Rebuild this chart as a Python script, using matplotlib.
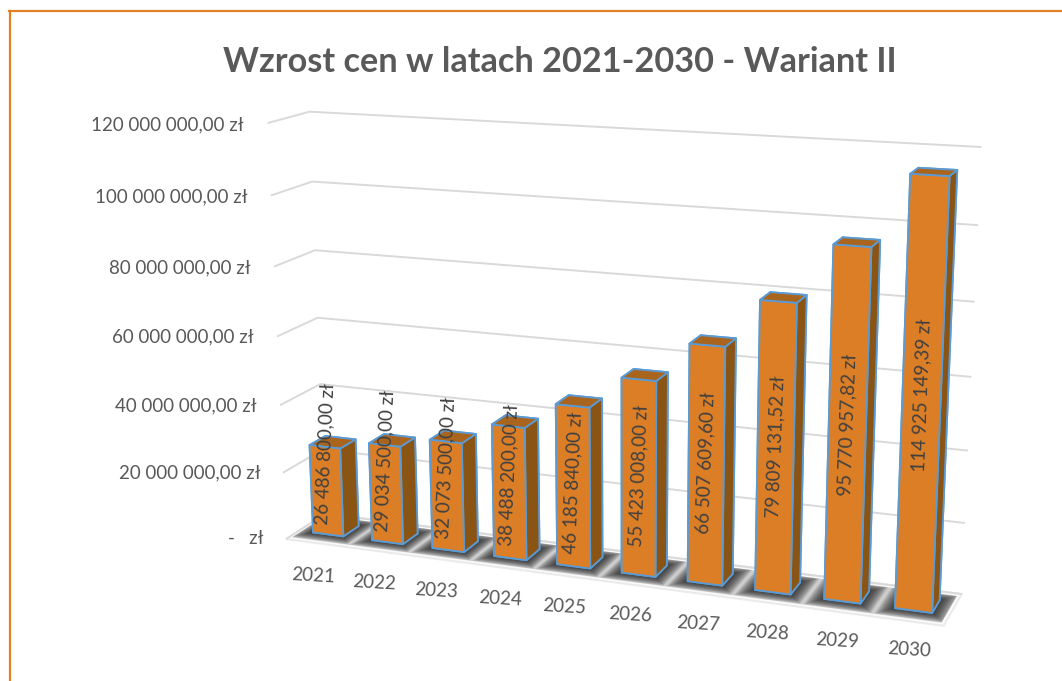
import matplotlib
matplotlib.use('Agg')
import matplotlib.pyplot as plt
from matplotlib.lines import Line2D
from mpl_toolkits.mplot3d.art3d import Poly3DCollection

plt.rcParams['font.family'] = ['Lato', 'DejaVu Sans']

years = ['2021', '2022', '2023', '2024', '2025', '2026', '2027', '2028', '2029', '2030']
values = [26486800.00, 29034500.00, 32073500.00, 38488200.00, 46185840.00,
          55423008.00, 66507609.60, 79809131.52, 95770957.82, 114925149.39]
z_ticks = [0, 20000000, 40000000, 60000000, 80000000, 100000000, 120000000]


def money(v):
    return f"{v:,.2f} zł".replace(',', ' ').replace('.', ',')


# camera and box fitted against the reference
W, H = 1062, 681
L, left, bottom = 815.5, 192.01, -93.7
bar_w, d0, d1 = 0.516, 0.325, 0.727

fig = plt.figure(figsize=(W / 100, H / 100), dpi=100)
ax = fig.add_axes([left / W, bottom / H, L / W, L / H], projection='3d', computed_zorder=False)
ax.patch.set_visible(False)
ax.set_xlim(0, 10, view_margin=0)
ax.set_ylim(0, 1, view_margin=0)
ax.set_zlim(0, 120e6, view_margin=0)
ax.set_box_aspect((1, 0.1248, 0.6297))
ax.set_proj_type('persp', focal_length=0.4687)
ax.view_init(14.66, -69.549, 0.11)

ax.set_xticks([])
ax.set_yticks([])
ax.set_zticks(z_ticks)
ax.set_zticklabels([])
ax.tick_params(axis='z', color=(0, 0, 0, 0))
ax.zaxis._axinfo['grid'].update(color='#D9D9D9', linewidth=1.4, linestyle='-')
for a in (ax.xaxis, ax.yaxis, ax.zaxis):
    a.line.set_color((0, 0, 0, 0))
ax.xaxis.set_pane_color((1, 1, 1, 0))
ax.yaxis.set_pane_color((1, 1, 1, 0))
ax.xaxis.pane.set_edgecolor((1, 1, 1, 0))
ax.yaxis.pane.set_edgecolor((1, 1, 1, 0))
ax.zaxis.pane.set_facecolor('#F6F6F6')
ax.zaxis.pane.set_edgecolor('#DADADA')
ax.zaxis.pane.set_linewidth(1.5)

# soft shadow on the floor
for k in range(12):
    m = 0.26 - k * 0.024
    for i in range(len(years)):
        x0 = max(i + 0.5 - bar_w / 2 - m * 0.95, 0.05)
        x1 = min(i + 0.5 + bar_w / 2 + m * 0.95, 9.95)
        y0 = max(d0 - m, 0.08)
        y1 = min(d1 + m, 0.92)
        ax.add_collection3d(Poly3DCollection([[(x0, y0, 0), (x1, y0, 0), (x1, y1, 0), (x0, y1, 0)]],
                                             facecolor='#202020', edgecolor='none', alpha=0.15, zorder=2))

for i, v in enumerate(values):
    ax.bar3d(i + 0.5 - bar_w / 2, d0, 0, bar_w, d1 - d0, v,
             color=['#8A5414', '#A9651E', '#DB7E26', '#8A5414', '#8A5414', '#8A5414'],
             edgecolor='#5B9BD5', linewidth=1.3, shade=False, zorder=5 + i)

# Text3D takes its angle from zdir, rotation= is ignored
for i, v in enumerate(values):
    ax.text(i + 0.5, d0, max(v / 2 + 0.8e6, 24.3e6), money(v), zdir=(0.14 * (9 - i) / 9, 0, 30e6),
            ha='center', va='center', rotation_mode='anchor', color='#404040', fontsize=13.5, zorder=30)

for i, y in enumerate(years):
    ax.text(1.13 + 0.958 * i, -0.98 + 0.021 * i, 0, y, zdir=(1, 0.157, 0), ha='center', va='center',
            rotation_mode='anchor', color='#595959', fontsize=13.5, zorder=30)

for t in z_ticks:
    label = money(t) if t else '-   zł'
    ax.text(-0.39, 0, t - 0.8e6, label, ha='right', va='center', color='#595959', fontsize=13.5, zorder=30)

fig.text(559.5 / W, 1 - 62 / H, 'Wzrost cen w latach 2021-2030 - Wariant II', ha='center', va='center',
         fontsize=24.7, fontweight='bold', color='#595959')

# chart frame, only the top and left edges are in the picture
fig.add_artist(Line2D([9.5 / W, 9.5 / W], [0, 1 - 11 / H], color='#E08027', linewidth=1.6))
fig.add_artist(Line2D([8.5 / W, 1], [1 - 11 / H, 1 - 11 / H], color='#E08027', linewidth=1.6))

fig.savefig('out.png', dpi=100)
